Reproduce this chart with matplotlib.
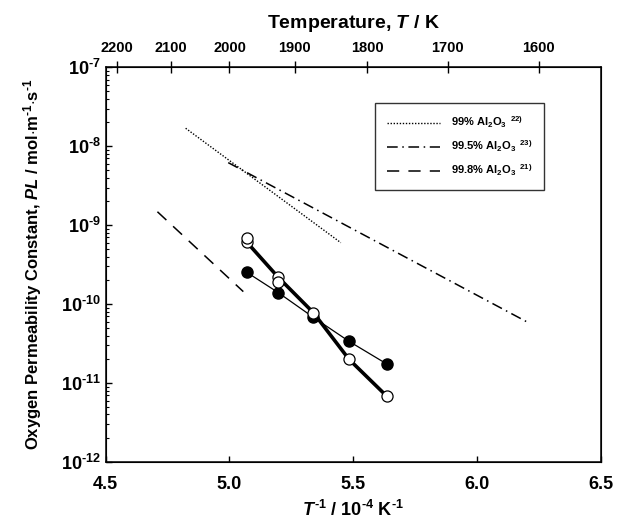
import numpy as np
import matplotlib
matplotlib.use("Agg")
import matplotlib.pyplot as plt
from matplotlib.ticker import FixedLocator, LogLocator, NullFormatter

plt.rcParams['font.family'] = ['Liberation Sans', 'DejaVu Sans']
plt.rcParams['font.weight'] = 'bold'
plt.rcParams['mathtext.fontset'] = 'custom'
plt.rcParams['mathtext.rm'] = 'Liberation Sans:bold'
plt.rcParams['mathtext.bf'] = 'Liberation Sans:bold'
plt.rcParams['mathtext.it'] = 'Liberation Sans:italic:bold'

# measured points (T^-1 in 10^-4 K^-1, PL in mol/m/s)
inv_t = [5.07, 5.197, 5.339, 5.483, 5.635]
pl_open = [6.1e-10, 2.19e-10, 7.8e-11, 2.0e-11, 6.85e-12]
pl_filled = [2.53e-10, 1.40e-10, 6.8e-11, 3.38e-11, 1.75e-11]
# extra open points (duplicate runs)
inv_t_extra = [5.07, 5.197]
pl_open_extra = [6.9e-10, 1.92e-10]

# literature lines (start / end)
lit_99_x = [4.823, 5.45]
lit_99_y = [1.69e-8, 6.0e-10]
lit_995_x = [4.995, 6.201]
lit_995_y = [6.2e-9, 5.98e-11]
lit_998_x = [4.709, 5.056]
lit_998_y = [1.48e-9, 1.44e-10]

top_temps = [2200, 2100, 2000, 1900, 1800, 1700, 1600]
HY = '\u2010'  # short hyphen like the original superscripts

fig = plt.figure(figsize=(6.25, 5.27), dpi=100)
ax = fig.add_axes([105.7 / 625, 1 - 462 / 527, 495 / 625, 394.7 / 527])

ax.plot(lit_99_x, lit_99_y, color='black', lw=1.0, ls=(0, (1, 1.2)),
        label=r'99% Al$_2$O$_3$$^{\ \ 22)}$')
ax.plot(lit_995_x, lit_995_y, color='black', lw=1.1, ls=(0, (7, 3, 1, 3)),
        label=r'99.5% Al$_2$O$_3$$^{\ \ 23)}$')
ax.plot(lit_998_x, lit_998_y, color='black', lw=1.1, ls=(0, (8, 6)),
        label=r'99.8% Al$_2$O$_3$$^{\ \ 21)}$')

ax.plot(inv_t, pl_filled, color='black', lw=0.9, marker='o', ms=8,
        mfc='black', mec='black', zorder=3)
ax.plot(inv_t, pl_open, color='black', lw=2.6, marker='o', ms=8,
        mfc='white', mec='black', mew=0.9, zorder=4)
ax.plot(inv_t_extra, pl_open_extra, ls='none', marker='o', ms=8,
        mfc='white', mec='black', mew=0.9, zorder=4)

ax.set_yscale('log')
ax.set_xlim(4.5, 6.5)
ax.set_ylim(1e-12, 1e-7)
ax.set_xticks([4.5, 5.0, 5.5, 6.0, 6.5])
ax.set_xticklabels(['4.5', '5.0', '5.5', '6.0', '6.5'])
ax.yaxis.set_minor_locator(LogLocator(base=10, subs=np.arange(2, 10), numticks=10))
ax.yaxis.set_minor_formatter(NullFormatter())
ax.set_yticks([1e-12, 1e-11, 1e-10, 1e-9, 1e-8, 1e-7])
ax.set_yticklabels(['$10^{%s%d}$' % (HY, e) for e in [12, 11, 10, 9, 8, 7]])
ax.tick_params(axis='both', which='major', direction='in', labelsize=13,
               length=4, width=1)
ax.tick_params(axis='y', which='minor', direction='in', length=2.5, width=0.8)
ax.tick_params(axis='x', which='major', pad=10)
for s in ax.spines.values():
    s.set_linewidth(1.1)

ax.set_xlabel('$\\mathit{T}^{%s1}$ / 10$^{%s4}$ K$^{%s1}$' % (HY, HY, HY),
              fontsize=13, fontweight='bold', labelpad=5)
ax.set_ylabel('Oxygen Permeability Constant, $\\mathit{PL}$ / '
              'mol$\\cdot$m$^{%s1}$$\\cdot$s$^{%s1}$' % (HY, HY),
              fontsize=12, fontweight='bold', labelpad=12)

top = ax.twiny()
top.set_xlim(ax.get_xlim())
top.xaxis.set_major_locator(FixedLocator([1e4 / t for t in top_temps]))
top.set_xticklabels([str(t) for t in top_temps])
top.tick_params(axis='x', direction='inout', length=9, width=1, labelsize=10.5, pad=4)
top.set_xlabel(r'Temperature, $\mathit{T}$ / K', fontsize=14, fontweight='bold',
               labelpad=10)

leg = ax.legend(loc='upper left', bbox_to_anchor=(0.544, 0.909), fontsize=8,
                frameon=True, fancybox=False, edgecolor='black', handlelength=4.8,
                borderpad=1.05, labelspacing=0.75, handletextpad=1.0,
                borderaxespad=0)
leg.get_frame().set_linewidth(1.0)

fig.savefig('out.png', dpi=100)
